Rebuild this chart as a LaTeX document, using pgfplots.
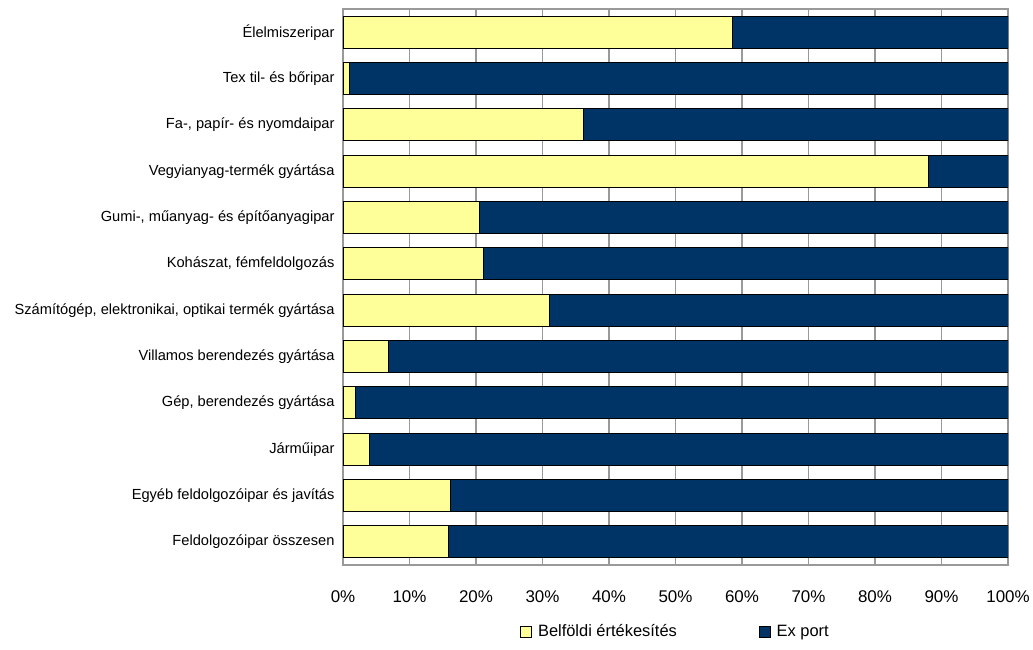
\documentclass[border=0pt]{standalone}
\usepackage{pgfplots}
\pgfplotsset{compat=1.18}
\usepackage{fontspec}
\setmainfont{Liberation Sans}
\definecolor{belfold}{HTML}{FFFF99}
\definecolor{export}{HTML}{003366}
\definecolor{gridgray}{HTML}{999999}
\begin{document}
\begin{tikzpicture}
\begin{axis}[
    xbar stacked,
    scale only axis,
    width=665bp, height=556bp,
    bar width=0.69,
    xmin=0, xmax=100,
    ymin=-0.5, ymax=11.5,
    y dir=reverse,
    ytick={0,...,11},
    yticklabels={
        Élelmiszeripar,
        Tex til- és bőripar,
        {Fa-, papír- és nyomdaipar},
        Vegyianyag-termék gyártása,
        {Gumi-, műanyag- és építőanyagipar},
        {Kohászat, fémfeldolgozás},
        {Számítógép, elektronikai, optikai termék gyártása},
        Villamos berendezés gyártása,
        {Gép, berendezés gyártása},
        Járműipar,
        Egyéb feldolgozóipar és javítás,
        Feldolgozóipar összesen
    },
    yticklabel style={font=\fontsize{14.7}{16}\selectfont, xshift=-5bp},
    y tick style={draw=none},
    xtick={0,10,...,100},
    xticklabel={\pgfmathprintnumber{\tick}\%},
    xticklabel style={font=\fontsize{17}{19}\selectfont, yshift=-22bp},
    /pgf/number format/assume math mode=true,
    x tick style={draw=none},
    xmajorgrids,
    grid style={gridgray, line width=1.2pt},
    axis line style={gridgray, line width=1.5pt},
    legend style={at={(0.5,-0.1)}, anchor=north, legend columns=2, draw=none,
        font=\fontsize{16.5}{18}\selectfont,
        /tikz/every even column/.append style={column sep=80bp}},
    legend image code/.code={\draw[#1] (0bp,-5.5bp) rectangle (11bp,5.5bp);
        \path (15bp,0bp);},
]
\addplot[fill=belfold, draw=black, line width=0.8pt] coordinates {
    (58.6,0) (0.9,1) (36.1,2) (88.0,3) (20.5,4) (21.1,5)
    (31.0,6) (6.9,7) (1.8,8) (3.9,9) (16.2,10) (15.9,11)
};
\addplot[fill=export, draw=black, line width=0.8pt] coordinates {
    (41.4,0) (99.1,1) (63.9,2) (12.0,3) (79.5,4) (78.9,5)
    (69.0,6) (93.1,7) (98.2,8) (96.1,9) (83.8,10) (84.1,11)
};
\legend{Belföldi értékesítés, Ex port}
\end{axis}
% page margins as in the reference
\path ([yshift=9bp]current axis.north) ([yshift=-84bp]current axis.south)
      ([xshift=-343bp]current axis.west);
\end{tikzpicture}
\end{document}
